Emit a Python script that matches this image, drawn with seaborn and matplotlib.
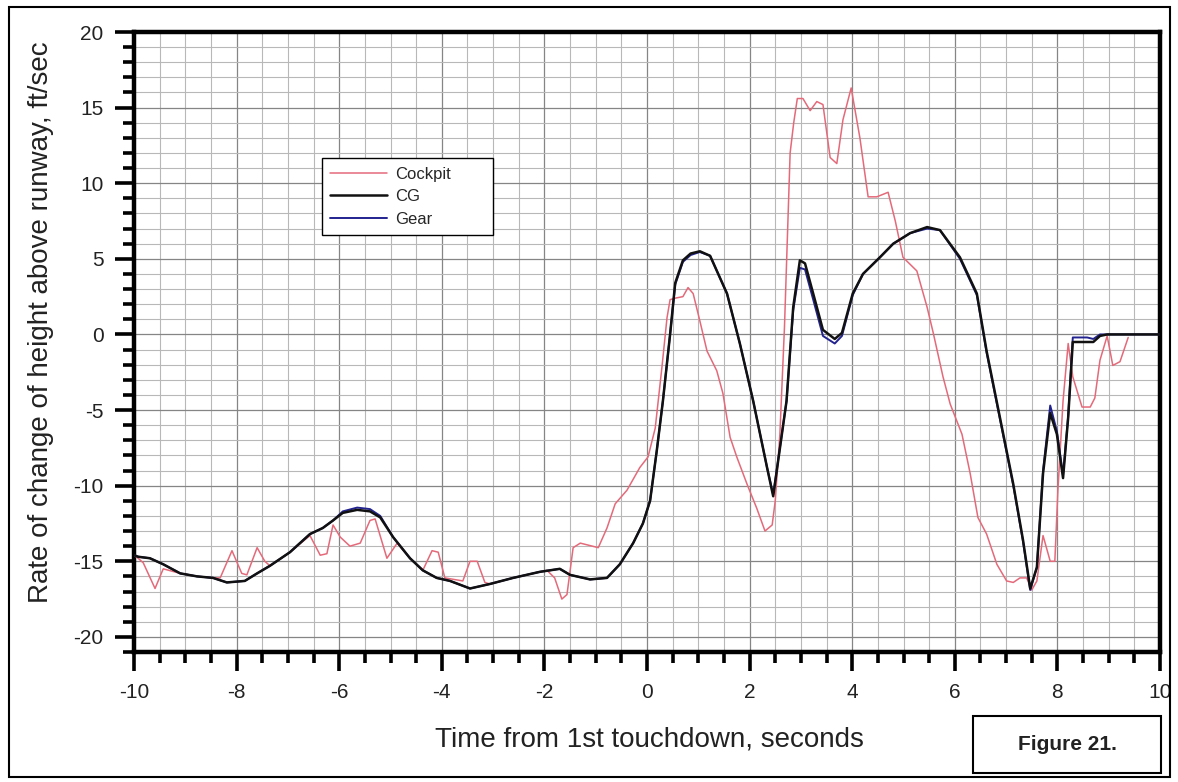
import numpy as np
import pandas as pd
import matplotlib
matplotlib.use('Agg')
import matplotlib.pyplot as plt
import seaborn as sns
from matplotlib.ticker import MultipleLocator
from matplotlib.patches import Rectangle

# Values
cg_t = [-10, -9.92, -9.69, -9.43, -9.1, -8.77, -8.46, -8.19, -7.84, -7.6, -7.35, -6.96,
        -6.57, -6.32, -6.12, -5.93, -5.65, -5.4, -5.2, -4.95, -4.62, -4.37, -4.1, -3.84,
        -3.45, -3.06, -2.61, -2.09, -1.7, -1.5, -1.11, -0.78, -0.53, -0.27, -0.08, 0.06,
        0.19, 0.31, 0.45, 0.55, 0.7, 0.85, 1.03, 1.23, 1.56, 1.81, 2.07, 2.34, 2.46, 2.72,
        2.85, 2.98, 3.08, 3.24, 3.43, 3.66, 3.8, 4.01, 4.21, 4.54, 4.8, 5.13, 5.46, 5.71,
        6.1, 6.43, 6.62, 6.88, 7.14, 7.33, 7.47, 7.6, 7.72, 7.86, 7.99, 8.11, 8.21, 8.3,
        8.58, 8.7, 8.83, 8.97, 9.36, 10]
cg_v = [-14.6, -14.7, -14.8, -15.2, -15.8, -16.0, -16.1, -16.4, -16.3, -15.8, -15.3, -14.4,
        -13.2, -12.8, -12.3, -11.8, -11.6, -11.7, -12.1, -13.4, -14.8, -15.6, -16.1, -16.3,
        -16.8, -16.5, -16.1, -15.7, -15.5, -15.9, -16.2, -16.1, -15.2, -13.8, -12.5, -11.0,
        -7.7, -4.4, 0.0, 3.4, 4.9, 5.35, 5.5, 5.2, 2.7, -0.6, -4.4, -8.8, -10.7, -4.4,
        1.8, 4.9, 4.7, 2.7, 0.3, -0.3, 0.1, 2.7, 4.0, 5.1, 6.0, 6.7, 7.1, 6.9,
        5.1, 2.7, -1.1, -5.5, -9.9, -13.6, -16.8, -15.4, -9.2, -5.2, -6.6, -9.5, -5.5, -0.5,
        -0.5, -0.5, -0.1, 0.0, 0.0, 0.0]

gear_t = [-10, -9.92, -9.69, -9.43, -9.1, -8.77, -8.46, -8.19, -7.84, -7.6, -7.35, -6.96,
          -6.57, -6.32, -6.12, -5.93, -5.65, -5.4, -5.2, -4.95, -4.62, -4.37, -4.1, -3.84,
          -3.45, -3.06, -2.61, -2.09, -1.7, -1.5, -1.11, -0.78, -0.53, -0.27, -0.08, 0.06,
          0.19, 0.31, 0.45, 0.55, 0.7, 0.85, 1.03, 1.23, 1.56, 1.81, 2.07, 2.34, 2.46, 2.72,
          2.85, 2.98, 3.08, 3.24, 3.43, 3.66, 3.8, 4.01, 4.21, 4.54, 4.8, 5.13, 5.46, 5.71,
          6.1, 6.43, 6.62, 6.88, 7.14, 7.33, 7.47, 7.6, 7.72, 7.86, 7.99, 8.11, 8.21, 8.3,
          8.58, 8.7, 8.83, 8.97, 9.36, 10]
gear_v = [-14.6, -14.7, -14.8, -15.2, -15.8, -16.0, -16.1, -16.4, -16.3, -15.8, -15.3, -14.4,
          -13.2, -12.8, -12.3, -11.7, -11.45, -11.55, -12.0, -13.4, -14.8, -15.6, -16.1, -16.3,
          -16.8, -16.5, -16.1, -15.7, -15.5, -15.9, -16.2, -16.1, -15.2, -13.8, -12.5, -11.0,
          -7.7, -4.4, 0.0, 3.3, 4.8, 5.25, 5.45, 5.2, 2.7, -0.6, -4.4, -8.8, -10.6, -4.4,
          1.6, 4.4, 4.3, 2.3, -0.1, -0.6, -0.1, 2.6, 4.0, 5.1, 6.0, 6.7, 7.0, 6.9,
          5.0, 2.6, -1.2, -5.6, -10.0, -13.7, -16.9, -15.4, -9.0, -4.7, -6.4, -9.3, -5.4, -0.2,
          -0.2, -0.3, 0.0, 0.0, 0.0, 0.0]

cockpit_t = [-10, -9.92, -9.82, -9.59, -9.43, -9.1, -8.77, -8.46, -8.32, -8.09, -7.9, -7.8,
             -7.6, -7.45, -7.35, -6.96, -6.57, -6.37, -6.24, -6.12, -5.98, -5.79, -5.59, -5.4,
             -5.3, -5.07, -4.87, -4.62, -4.37, -4.19, -4.07, -3.94, -3.59, -3.45, -3.31, -3.16,
             -3.06, -2.61, -2.09, -1.95, -1.8, -1.66, -1.56, -1.44, -1.3, -0.95, -0.78, -0.62,
             -0.39, -0.14, 0.02, 0.16, 0.29, 0.39, 0.45, 0.55, 0.7, 0.8, 0.9, 1.03,
             1.17, 1.36, 1.48, 1.62, 1.75, 1.95, 2.14, 2.3, 2.44, 2.5, 2.59, 2.68,
             2.79, 2.86, 2.93, 3.04, 3.18, 3.31, 3.43, 3.57, 3.7, 3.82, 3.98, 4.15,
             4.31, 4.48, 4.7, 4.84, 4.99, 5.26, 5.46, 5.58, 5.77, 5.91, 6.14, 6.3,
             6.45, 6.62, 6.82, 7.01, 7.14, 7.27, 7.4, 7.5, 7.6, 7.72, 7.86, 7.95,
             8.01, 8.11, 8.21, 8.3, 8.48, 8.64, 8.73, 8.83, 8.97, 9.08, 9.22, 9.38]
cockpit_v = [-14.6, -14.8, -15.1, -16.8, -15.5, -15.8, -16.0, -16.1, -16.1, -14.3, -15.8, -15.9,
             -14.1, -15.0, -15.3, -14.4, -13.3, -14.6, -14.5, -12.6, -13.4, -14.0, -13.8, -12.3,
             -12.2, -14.8, -13.8, -14.8, -15.6, -14.3, -14.4, -16.1, -16.3, -15.0, -15.0, -16.4,
             -16.5, -16.1, -15.7, -15.6, -16.1, -17.5, -17.2, -14.1, -13.8, -14.1, -12.8, -11.2,
             -10.3, -8.8, -8.1, -6.2, -2.2, 1.1, 2.3, 2.4, 2.5, 3.1, 2.7, 0.9,
             -1.1, -2.4, -3.9, -6.8, -8.1, -9.9, -11.5, -13.0, -12.6, -11.0, -6.6, 0.5,
             12.0, 14.0, 15.6, 15.6, 14.8, 15.4, 15.2, 11.7, 11.3, 14.2, 16.3, 13.0,
             9.1, 9.1, 9.4, 7.5, 5.1, 4.2, 1.8, 0.1, -2.8, -4.6, -6.6, -9.2,
             -12.1, -13.2, -15.2, -16.3, -16.4, -16.1, -16.1, -16.9, -16.3, -13.3, -15.0, -15.0,
             -10.3, -4.4, -0.6, -2.8, -4.8, -4.8, -4.2, -1.7, -0.1, -2.05, -1.8, -0.2]

x_ticks = list(range(-10, 11, 2))
y_ticks = list(range(-20, 21, 5))

sns.set_style('white')
plt.rcParams['font.family'] = ['Liberation Sans', 'DejaVu Sans']

fig = plt.figure(figsize=(11.78, 7.82), dpi=100)
ax = fig.add_axes([134 / 1178, 1 - 652 / 782, 1026 / 1178, 620 / 782])

# Grid: minor and major lines
ax.xaxis.set_major_locator(MultipleLocator(2))
ax.xaxis.set_minor_locator(MultipleLocator(0.5))
ax.yaxis.set_major_locator(MultipleLocator(5))
ax.yaxis.set_minor_locator(MultipleLocator(1))
ax.grid(True, which='minor', color='#b8b8b8', linewidth=0.8)
ax.grid(True, which='major', color='#858585', linewidth=0.9)
ax.set_axisbelow(True)

sns.lineplot(x=cockpit_t, y=cockpit_v, ax=ax, sort=False, estimator=None,
             color='#e46a7a', linewidth=1.1, label='Cockpit', zorder=3)
sns.lineplot(x=cg_t, y=cg_v, ax=ax, sort=False, estimator=None,
             color='#111111', linewidth=1.8, label='CG', zorder=5)
sns.lineplot(x=gear_t, y=gear_v, ax=ax, sort=False, estimator=None,
             color='#23238f', linewidth=1.4, label='Gear', zorder=4)

ax.set_xlim(-10, 10)
ax.set_ylim(-21, 20)
ax.set_xticks(x_ticks)
ax.set_yticks(y_ticks)
ax.set_xticklabels([str(t) for t in x_ticks])
ax.set_yticklabels([str(t) for t in y_ticks])

for s in ax.spines.values():
    s.set_visible(True)
    s.set_linewidth(3.2)
    s.set_color('black')

ax.tick_params(which='major', direction='out', length=14, width=2.6, labelsize=15,
               pad=8, bottom=True, left=True, colors='black', labelcolor='#222222')
ax.tick_params(which='minor', direction='out', length=8, width=2.6,
               bottom=True, left=True, colors='black')

ax.set_xlabel('Time from 1st touchdown, seconds', fontsize=20, color='#222222')
ax.set_ylabel('Rate of change of height above runway, ft/sec', fontsize=20, color='#222222')
ax.xaxis.set_label_coords(0.502, -0.12)
ax.yaxis.set_label_coords(-0.078, 0.532)

leg = ax.legend(loc='upper left', bbox_to_anchor=(0.183, 0.796, 0.167, 0), mode='expand',
                fontsize=12, frameon=True, fancybox=False, shadow=False, handlelength=3.4,
                borderpad=0.5, labelspacing=0.45, handletextpad=0.5, borderaxespad=0)
leg.get_frame().set_edgecolor('black')
leg.get_frame().set_linewidth(1.0)
leg.get_frame().set_alpha(1)

# outer frame and caption box
fig.patches.append(Rectangle((9 / 1178, 1 - 777 / 782), 1161 / 1178, 770 / 782,
                             transform=fig.transFigure, fill=False,
                             edgecolor='black', linewidth=1.5))
fig.patches.append(Rectangle((973 / 1178, 1 - 773 / 782), 188 / 1178, 57 / 782,
                             transform=fig.transFigure, fill=False,
                             edgecolor='black', linewidth=1.5))
fig.text(1067 / 1178, 1 - 745 / 782, 'Figure 21.', fontsize=15, fontweight='bold',
         ha='center', va='center', color='#222222')

plt.savefig('out.png', dpi=100)
